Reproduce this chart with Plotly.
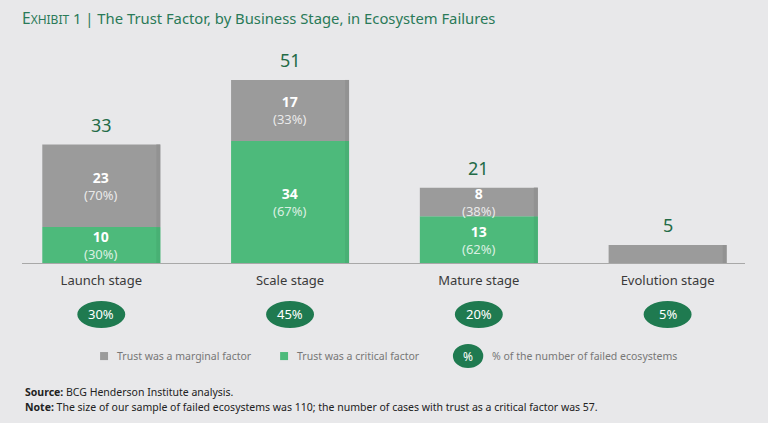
import plotly.graph_objects as go

stages = ["Launch stage", "Scale stage", "Mature stage", "Evolution stage"]
critical = [10, 34, 13, 0]
marginal = [23, 17, 8, 5]
critical_pct = ["30%", "67%", "62%", ""]
marginal_pct = ["70%", "33%", "38%", ""]
share_of_failed = ["30%", "45%", "20%", "5%"]

GREY = "#9b9b9b"
GREY_EDGE = "#929292"
GREEN = "#4dba7b"
GREEN_EDGE = "#48b074"
DARK_GREEN = "#1f7a50"
BG = "#e8e8ea"
FONT = "Noto Sans"

BAR_W = 0.625
EDGE_W = 0.021

totals = [c + m for c, m in zip(critical, marginal)]

fig = go.Figure()
fig.add_trace(go.Bar(x=stages, y=critical, base=[0] * len(stages), width=BAR_W, offset=-BAR_W / 2,
                     marker=dict(color=GREEN, line=dict(width=0)),
                     name="Trust was a critical factor", hoverinfo="skip"))
fig.add_trace(go.Bar(x=stages, y=marginal, base=critical, width=BAR_W, offset=-BAR_W / 2,
                     marker=dict(color=GREY, line=dict(width=0)),
                     name="Trust was a marginal factor", hoverinfo="skip"))
# subtle darker right edge of each bar segment
fig.add_trace(go.Bar(x=stages, y=critical, base=[0] * len(stages), width=EDGE_W, offset=BAR_W / 2 - EDGE_W,
                     marker=dict(color=GREEN_EDGE, line=dict(width=0)), hoverinfo="skip", showlegend=False))
fig.add_trace(go.Bar(x=stages, y=marginal, base=critical, width=EDGE_W, offset=BAR_W / 2 - EDGE_W,
                     marker=dict(color=GREY_EDGE, line=dict(width=0)), hoverinfo="skip", showlegend=False))

ann = []
shapes = []
for i, s in enumerate(stages):
    ann.append(dict(x=s, y=totals[i], xref="x", yref="y", text=str(totals[i]), showarrow=False,
                    xanchor="center", yanchor="bottom", yshift=6,
                    font=dict(size=18, color="#236b47", family=FONT)))
    if critical[i] > 0 and critical_pct[i]:
        ann.append(dict(x=s, y=critical[i] / 2, xref="x", yref="y", xanchor="center", yanchor="middle",
                        text=f"<b style='font-size:14px'>{critical[i]}</b><br><span style='color:rgba(255,255,255,0.8)'>({critical_pct[i]})</span>",
                        showarrow=False, font=dict(size=13, color="white", family=FONT)))
    if marginal_pct[i]:
        ann.append(dict(x=s, y=critical[i] + marginal[i] / 2, xref="x", yref="y", xanchor="center", yanchor="middle",
                        text=f"<b style='font-size:14px'>{marginal[i]}</b><br><span style='color:rgba(255,255,255,0.8)'>({marginal_pct[i]})</span>",
                        showarrow=False, font=dict(size=13, color="white", family=FONT)))
    shapes.append(dict(type="circle", xref="x", yref="paper", x0=i - 0.127, x1=i + 0.127,
                       y0=-0.323, y1=-0.189, fillcolor=DARK_GREEN, line=dict(width=0)))
    ann.append(dict(x=s, y=-0.256, xref="x", yref="paper", xanchor="center", yanchor="middle",
                    text=share_of_failed[i], showarrow=False,
                    font=dict(size=13, color="white", family=FONT)))

# custom legend
LEG_Y = -0.463
shapes.append(dict(type="rect", xref="paper", yref="paper", x0=0.108, x1=0.119, y0=-0.483, y1=-0.443,
                   fillcolor=GREY, line=dict(width=0)))
ann.append(dict(x=0.128, y=LEG_Y, xref="paper", yref="paper", xanchor="left", yanchor="middle", showarrow=False,
                text="Trust was a marginal factor", font=dict(size=10.5, color="#777", family=FONT)))
shapes.append(dict(type="rect", xref="paper", yref="paper", x0=0.357, x1=0.368, y0=-0.483, y1=-0.443,
                   fillcolor=GREEN, line=dict(width=0)))
ann.append(dict(x=0.377, y=LEG_Y, xref="paper", yref="paper", xanchor="left", yanchor="middle", showarrow=False,
                text="Trust was a critical factor", font=dict(size=10.5, color="#777", family=FONT)))
shapes.append(dict(type="circle", xref="paper", yref="paper", x0=0.596, x1=0.638, y0=-0.523, y1=-0.403,
                   fillcolor=DARK_GREEN, line=dict(width=0)))
ann.append(dict(x=0.617, y=LEG_Y, xref="paper", yref="paper", xanchor="center", yanchor="middle", showarrow=False,
                text="%", font=dict(size=12, color="white", family=FONT)))
ann.append(dict(x=0.647, y=LEG_Y, xref="paper", yref="paper", xanchor="left", yanchor="middle", showarrow=False,
                text="% of the number of failed ecosystems", font=dict(size=10.5, color="#777", family=FONT)))

# footnotes (pixel positions converted to paper coords)
for ypix, txt in [(392, "<b>Source:</b> BCG Henderson Institute analysis."),
                  (407, "<b>Note:</b> The size of our sample of failed ecosystems was 110; the number of cases with trust as a critical factor was 57.")]:
    ann.append(dict(x=(23 - 22) / 723, y=(263 - ypix) / 201, xref="paper", yref="paper", showarrow=False,
                    xanchor="left", yanchor="middle", text=txt,
                    font=dict(size=10.5, color="#222", family=FONT)))

fig.update_layout(
    width=768, height=423,
    barmode="overlay",
    paper_bgcolor=BG, plot_bgcolor=BG,
    margin=dict(l=22, r=23, t=62, b=160),
    showlegend=False,
    title=dict(text="<span style='font-size:15.5px'>E</span><span style='font-size:12px'>XHIBIT</span> 1 | The Trust Factor, by Business Stage, in Ecosystem Failures",
               x=22 / 768, xanchor="left", xref="container", y=1 - 19 / 423, yanchor="middle", yref="container",
               font=dict(size=14.8, color="#2a7a58", family=FONT)),
    xaxis=dict(range=[-0.42, 3.41], showgrid=False, showline=True, linecolor="#a8a8a8", linewidth=1,
               ticks="outside", ticklen=5, tickcolor=BG,
               tickfont=dict(size=13, color="#3a3a3a", family=FONT), fixedrange=True),
    yaxis=dict(range=[0, 56], visible=False, showgrid=False, fixedrange=True),
    annotations=ann, shapes=shapes,
)

fig.write_html("out.html", config={"displayModeBar": False},
               post_script="document.body.style.margin='0';document.body.style.background='#e8e8ea';")
